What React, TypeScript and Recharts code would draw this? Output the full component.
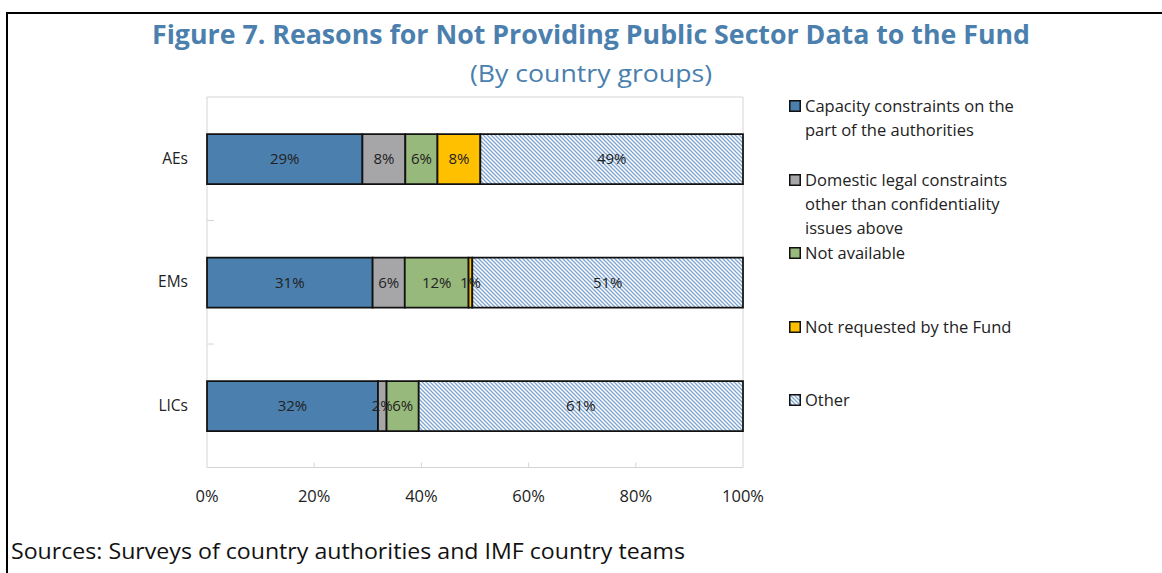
import React from "react";
import { Bar, BarChart, CartesianGrid, LabelList, XAxis, YAxis } from "recharts";

const FONT = "'Open Sans', 'Noto Sans', sans-serif";

// data (shares in %, each group sums to 100)
const groups = ["AEs", "EMs", "LICs"];
const capacity = [29, 30.9, 31.9];
const legal = [8, 6.0, 1.6];
const notAvailable = [6, 11.9, 6.0];
const notRequested = [8, 0.7, 0];
const other = [49, 50.5, 60.5];

const xTicks = [0, 20, 40, 60, 80, 100];

const seriesKeys = ["capacity", "legal", "notAvailable", "notRequested", "other"];
const seriesNames = [
  "Capacity constraints on the\npart of the authorities",
  "Domestic legal constraints\nother than confidentiality\nissues above",
  "Not available",
  "Not requested by the Fund",
  "Other",
];
const seriesColors = ["#4a7fae", "#a6a6a9", "#98b97c", "#ffc000", "url(#otherHatch)"];

const data = groups.map((g, i) => ({
  group: g,
  capacity: capacity[i],
  legal: legal[i],
  notAvailable: notAvailable[i],
  notRequested: notRequested[i],
  other: other[i],
}));

const pctLabel = (v: any) => {
  const n = Math.round(Number(v));
  return n > 0 ? `${n}%` : "";
};

function Hatch({ id }: { id: string }) {
  return (
    <pattern id={id} patternUnits="userSpaceOnUse" width={4} height={4}>
      <rect width={4} height={4} fill="#fff" />
      <path d="M-1,-1 L5,5 M-1,3 L1,5 M3,-1 L5,1" stroke="#7ea5d2" strokeWidth={1.3} />
    </pattern>
  );
}

function GroupTick(props: any) {
  const { x, y, payload, index, visibleTicksCount } = props;
  const half = typeof payload.offset === "number" ? payload.offset : 0;
  return (
    <g>
      <text x={x - 19} y={y} dy={5} textAnchor="end" fontSize={15.5} fill="#222" fontFamily={FONT}>
        {payload.value}
      </text>
      {index < visibleTicksCount - 1 && (
        <line x1={x} x2={x + 7} y1={y + half} y2={y + half} stroke="#d4d4d4" />
      )}
    </g>
  );
}

function PctTick(props: any) {
  const { x, y, payload, index, visibleTicksCount } = props;
  return (
    <g>
      {index > 0 && index < visibleTicksCount - 1 && (
        <line x1={x} x2={x} y1={y} y2={y - 5} stroke="#d4d4d4" />
      )}
      <text x={x} y={y + 34} textAnchor="middle" fontSize={16.5} fill="#222" fontFamily={FONT}>
        {`${payload.value}%`}
      </text>
    </g>
  );
}

function LegendBox() {
  return (
    <div style={{ position: "absolute", left: 789, top: 94, fontFamily: FONT, fontSize: 16.5, color: "#222" }}>
      {seriesNames.map((name, i) => (
        <div key={name} style={{ position: "absolute", top: i * 73.5, left: 0, width: 340 }}>
          <svg width={12} height={12} style={{ position: "absolute", left: 0, top: 6 }}>
            <defs>
              <Hatch id="legendHatch" />
            </defs>
            <rect
              x={0.75}
              y={0.75}
              width={10.5}
              height={10.5}
              fill={i === 4 ? "url(#legendHatch)" : seriesColors[i]}
              stroke="#111"
              strokeWidth={1.5}
            />
          </svg>
          <div style={{ marginLeft: 16, lineHeight: "24px", whiteSpace: "pre-line" }}>{name}</div>
        </div>
      ))}
    </div>
  );
}

export default function App() {
  return (
    <div style={{ position: "absolute", left: 0, top: 0, width: 1162, height: 573, overflow: "hidden", background: "#fff" }}>
      <div
        style={{
          position: "absolute",
          left: 6,
          top: 12,
          width: 1300,
          height: 700,
          borderTop: "2px solid #000",
          borderLeft: "2px solid #000",
        }}
      />
      <svg width={1162} height={573} style={{ position: "absolute", left: 0, top: 0 }}>
        <text x={591} y={44} textAnchor="middle" fontFamily={FONT} fontWeight={700} fontSize={27} fill="#4a7fae" textLength={878} lengthAdjust="spacingAndGlyphs">
          Figure 7. Reasons for Not Providing Public Sector Data to the Fund
        </text>
        <text x={591} y={82} textAnchor="middle" fontFamily={FONT} fontSize={24} fill="#4a7fae" textLength={242} lengthAdjust="spacingAndGlyphs">
          (By country groups)
        </text>
        <text x={11} y={559} fontFamily={FONT} fontSize={21} fill="#111" textLength={674} lengthAdjust="spacingAndGlyphs">
          Sources: Surveys of country authorities and IMF country teams
        </text>
      </svg>
      <div style={{ position: "absolute", left: 0, top: 0 }}>
        <BarChart
          width={1162}
          height={573}
          data={data}
          layout="vertical"
          margin={{ top: 97, right: 419, bottom: 75.5, left: 147 }}
        >
          <defs>
            <Hatch id="otherHatch" />
          </defs>
          <CartesianGrid
            stroke="#d4d4d4"
            horizontalCoordinatesGenerator={({ offset }: any) => [offset.top, offset.top + offset.height]}
            verticalCoordinatesGenerator={({ offset }: any) => [offset.left, offset.left + offset.width]}
          />
          <XAxis
            type="number"
            domain={[0, 100]}
            ticks={xTicks}
            height={30}
            axisLine={false}
            tickLine={false}
            tickSize={0}
            tickMargin={0}
            tick={<PctTick />}
            interval={0}
          />
          <YAxis
            type="category"
            dataKey="group"
            width={60}
            axisLine={false}
            tickLine={false}
            tickSize={0}
            tickMargin={0}
            tick={<GroupTick />}
            interval={0}
          />
          {seriesKeys.map((k, i) => (
            <Bar
              key={k}
              dataKey={k}
              name={seriesNames[i]}
              stackId="s"
              fill={seriesColors[i]}
              stroke="#111"
              strokeWidth={1.75}
              barSize={50}
              isAnimationActive={false}
            >
              <LabelList dataKey={k} position="center" formatter={pctLabel} fontSize={15} fill="#222" fontFamily={FONT} />
            </Bar>
          ))}
        </BarChart>
      </div>
      <LegendBox />
    </div>
  );
}
